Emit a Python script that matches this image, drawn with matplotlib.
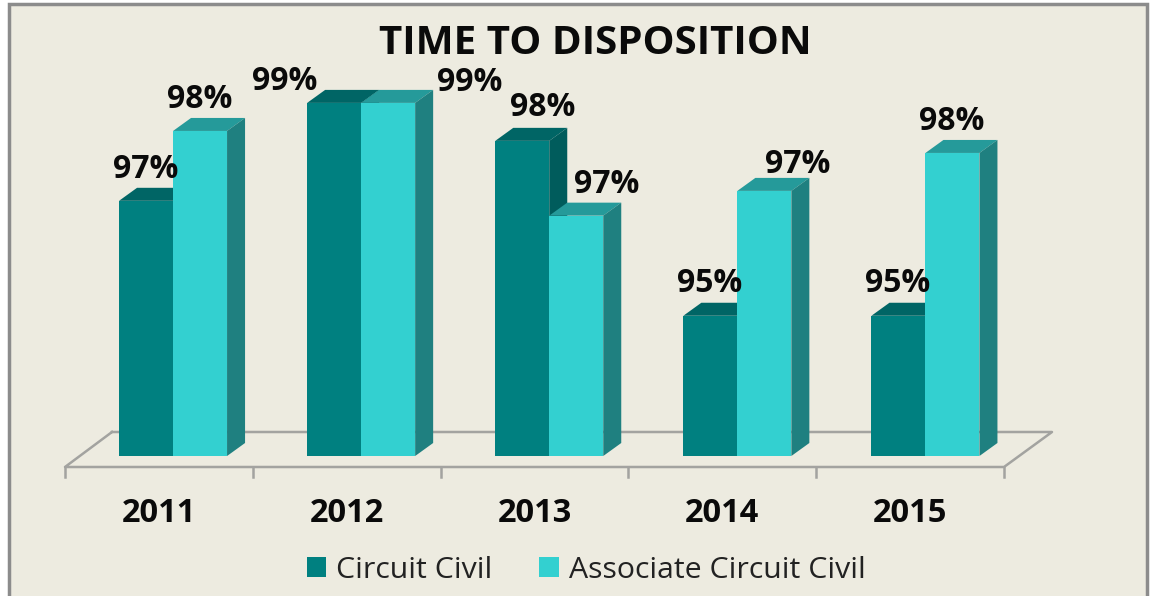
import matplotlib
matplotlib.use('Agg')
import matplotlib.pyplot as plt
from matplotlib.patches import Polygon, Rectangle

years = ['2011', '2012', '2013', '2014', '2015']
circuit = [97.09, 98.87, 98.18, 95.0, 95.0]
associate = [98.36, 98.87, 96.82, 97.27, 97.96]
series_names = ['Circuit Civil', 'Associate Circuit Civil']

# nudges for the data labels in pixels, the original has them moved by hand
circuit_nudge = [(0, 31), (-49, 21), (20, 33), (-1, 32), (-1, 32)]
associate_nudge = [(0, 31), (82, 20), (30, 31), (33, 26), (-1, 31)]

W, H = 1154, 596
BG = '#edebe0'
LINE = '#a3a3a0'
FONT = 'Open Sans'

plt.rcParams['font.family'] = FONT
fig = plt.figure(figsize=(W / 100, H / 100), dpi=100, facecolor='white')

# pixel axes for the frame and the 3d floor
bg = fig.add_axes([0, 0, 1, 1])
bg.set_xlim(0, W)
bg.set_ylim(H, 0)
bg.axis('off')
bg.add_patch(Rectangle((9, 4), 1138, 640, fc=BG, ec='#8c8c8c', lw=2.5))
bg.plot([112, 1052, 1004, 65, 112], [432, 432, 467, 467, 432], color=LINE, lw=1.8)
for i in range(len(years) + 1):
    tx = 65 + i * 939 / len(years)
    bg.plot([tx, tx], [467, 477], color=LINE, lw=1.8)

# data axes, baseline of the bars at y=456
base = 92.45
step = 188.1
ax = fig.add_axes([65 / W, (H - 456) / H, 5 * step / W, 396 / H])
ax.set_xlim(-0.5, 4.5)
ax.set_ylim(base, base + 396 / 55)
ax.axis('off')
ax.patch.set_alpha(0)

bar_w = 54 / step
shift = 14 / step
depth_x = 18 / step
depth_y = 13 / 55


def draw_bar(x, val, front, top, side, name=None):
    left = x
    right = x + bar_w
    ax.add_patch(Polygon([(left, val), (right, val), (right + depth_x, val + depth_y),
                          (left + depth_x, val + depth_y)], fc=top, ec='none', clip_on=False))
    ax.add_patch(Polygon([(right, base), (right + depth_x, base + depth_y),
                          (right + depth_x, val + depth_y), (right, val)], fc=side, ec='none', clip_on=False))
    return ax.bar(x, val - base, bar_w, bottom=base, align='edge', color=front, label=name, clip_on=False)


def put_label(x, val, nudge):
    ax.annotate('%.0f%%' % val, (x + bar_w / 2, val),
                xytext=(nudge[0] * 0.72, nudge[1] * 0.72), textcoords='offset points',
                ha='center', va='center', fontsize=23, fontweight='bold', color='#0a0a0a',
                annotation_clip=False, zorder=10)


for i in range(len(years)):
    x1 = i + shift - bar_w
    x2 = i + shift
    draw_bar(x1, circuit[i], '#008080', '#006565', '#005c5c', series_names[0] if i == 0 else None)
    draw_bar(x2, associate[i], '#33d0d0', '#259a9a', '#1f8080', series_names[1] if i == 0 else None)
    put_label(x1, circuit[i], circuit_nudge[i])
    put_label(x2, associate[i], associate_nudge[i])

for i, y in enumerate(years):
    bg.text(65 + (i + 0.5) * 939 / len(years), 514, y, ha='center', va='center',
            fontsize=23.5, fontweight='bold', color='#0a0a0a')

bg.text(595, 44, 'TIME TO DISPOSITION', ha='center', va='center', fontsize=29,
        fontweight='bold', color='#0a0a0a')

leg = ax.legend(loc='center', bbox_to_anchor=(586 / W, 1 - 570 / H), bbox_transform=fig.transFigure,
                ncol=2, frameon=False, fontsize=21.8, handlelength=0.64, handleheight=0.64,
                handletextpad=0.33, columnspacing=1.55, borderpad=0, labelcolor='#222222')

fig.savefig('out.png', dpi=100, facecolor='white')
